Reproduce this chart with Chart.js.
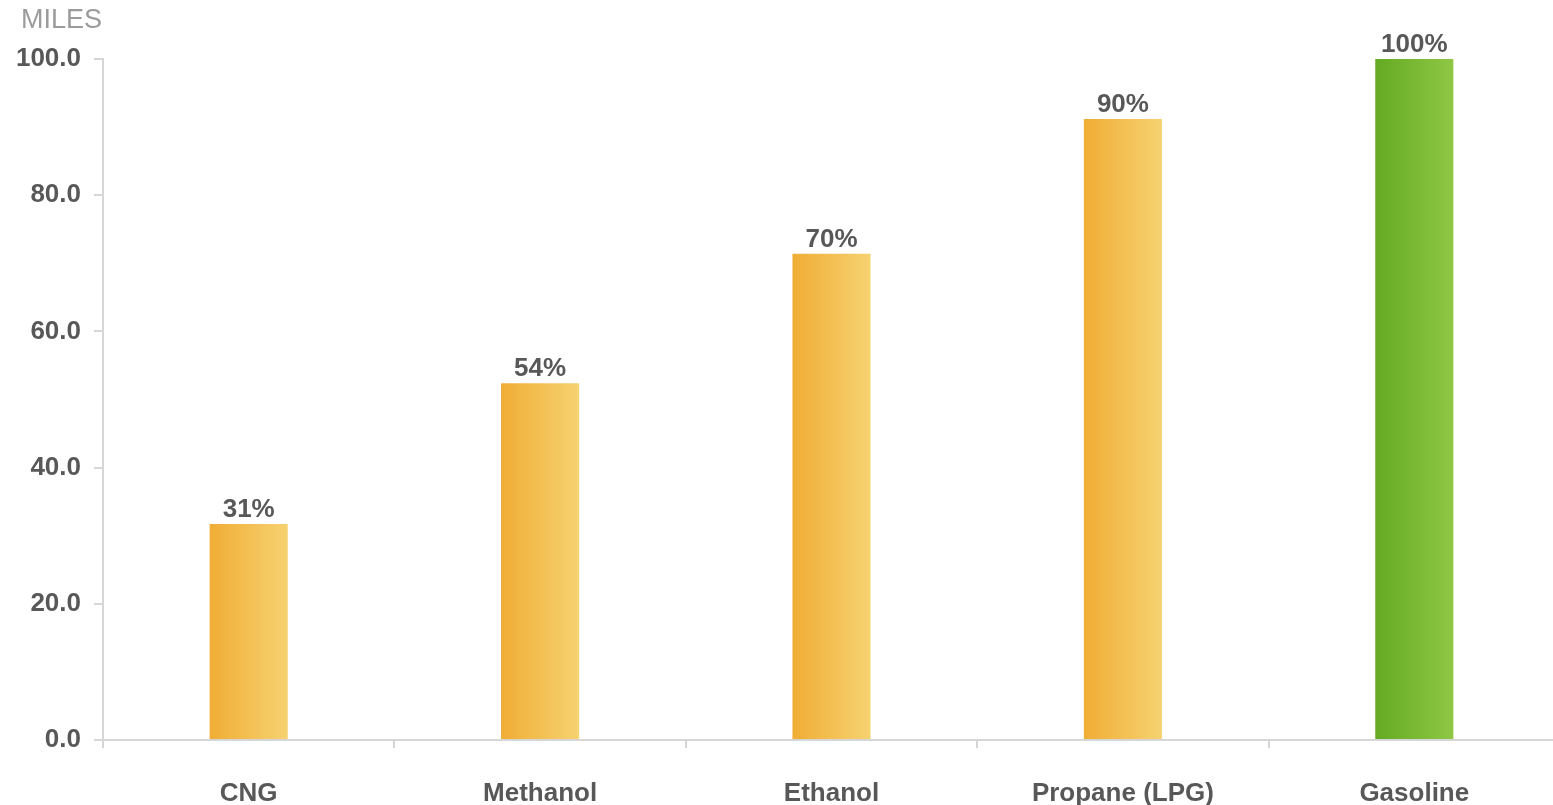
<!DOCTYPE html>
<html>
<head>
<meta charset="utf-8">
<script src="https://cdn.jsdelivr.net/npm/chart.js@4.4.0/dist/chart.umd.min.js"></script>
<style>
  html, body { margin: 0; padding: 0; background: #fff; overflow: hidden; }
  #wrap { position: relative; width: 1560px; height: 805px; }
  #unit { position: absolute; left: 21px; top: 4px; font: 27px "Liberation Sans", Arial, sans-serif; color: #9b9b9b; }
</style>
</head>
<body>
<div id="wrap">
  <canvas id="rangeChart" width="1560" height="805"></canvas>
  <div id="unit">MILES</div>
</div>
<script>
// data
const fuels = ['CNG', 'Methanol', 'Ethanol', 'Propane (LPG)', 'Gasoline'];
const miles = [31.7, 52.4, 71.4, 91.2, 100];
const pctLabels = ['31%', '54%', '70%', '90%', '100%'];
const yTicks = [0, 20, 40, 60, 80, 100];

const BAR_PCT = 0.268;
const textGrey = '#585858';
const axisGrey = '#d6d6d6';
const FONT = '"Liberation Sans", Arial, sans-serif';

// horizontal gradient per bar (dark left -> light right)
function barFill(ctx) {
    const chart = ctx.chart;
    const x = chart.scales.x;
    const isGas = ctx.dataIndex === fuels.length - 1;
    const solid = isGas ? '#79b831' : '#f3bf50';
    if (!chart.chartArea || !x) return solid;
    const center = x.getPixelForValue(ctx.dataIndex);
    const half = (x.getPixelForValue(1) - x.getPixelForValue(0)) * BAR_PCT / 2;
    const g = chart.ctx.createLinearGradient(center - half, 0, center + half, 0);
    if (isGas) {
        g.addColorStop(0, '#64aa22');
        g.addColorStop(1, '#8fc744');
    } else {
        g.addColorStop(0, '#f0ad35');
        g.addColorStop(1, '#f6d271');
    }
    return g;
}

// percent labels above the bars
const topLabels = {
    id: 'topLabels',
    afterDatasetsDraw(chart) {
        const c = chart.ctx;
        const meta = chart.getDatasetMeta(0);
        c.save();
        c.font = 'bold 26px ' + FONT;
        c.fillStyle = textGrey;
        c.textAlign = 'center';
        c.textBaseline = 'alphabetic';
        meta.data.forEach((bar, i) => {
            c.fillText(pctLabels[i], bar.x, bar.y - 7);
        });
        c.restore();
    }
};

const ctx = document.getElementById('rangeChart').getContext('2d');
new Chart(ctx, {
    type: 'bar',
    data: {
        labels: fuels,
        datasets: [{
            data: miles,
            backgroundColor: barFill,
            borderWidth: 0,
            categoryPercentage: 1,
            barPercentage: BAR_PCT
        }]
    },
    options: {
        responsive: false,
        animation: false,
        layout: { padding: { top: 59, right: 0, bottom: 0, left: 0 } },
        plugins: {
            legend: { display: false },
            tooltip: { enabled: false }
        },
        scales: {
            x: {
                grid: {
                    drawOnChartArea: false,
                    offset: true,
                    tickLength: 8,
                    color: axisGrey,
                    lineWidth: 2
                },
                border: { color: axisGrey, width: 2 },
                ticks: {
                    color: textGrey,
                    padding: 30,
                    font: { family: FONT, size: 26, weight: 'bold' }
                },
                afterFit: (s) => { s.height = 805 - 740; }
            },
            y: {
                min: 0,
                max: 100,
                afterBuildTicks: (s) => { s.ticks = yTicks.map(v => ({ value: v })); },
                grid: {
                    drawOnChartArea: false,
                    tickLength: 9,
                    color: axisGrey,
                    lineWidth: 2
                },
                border: { color: axisGrey, width: 2 },
                ticks: {
                    color: textGrey,
                    padding: 13,
                    font: { family: FONT, size: 26, weight: 'bold' },
                    callback: (v) => Number(v).toFixed(1)
                },
                afterFit: (s) => { s.width = 103; }
            }
        }
    },
    plugins: [topLabels]
});
</script>
</body>
</html>
